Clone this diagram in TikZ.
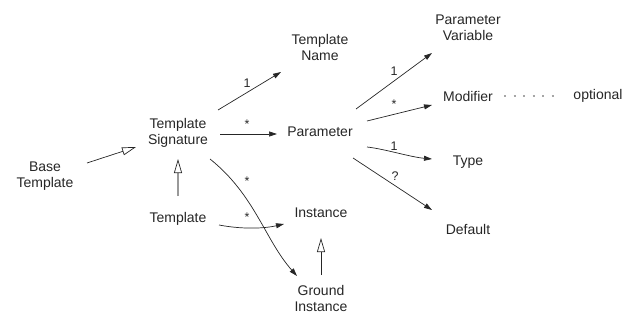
\documentclass[tikz,border=0pt]{standalone}
\usepackage{fontspec}
\setmainfont{Liberation Sans}
\usetikzlibrary{arrows.meta,calc}
\begin{document}
\begin{tikzpicture}[x=1pt,y=-1pt,
  lbl/.style={font=\fontsize{14}{16}\selectfont, align=center, inner sep=0pt, text=black!85},
  mult/.style={font=\fontsize{12.5}{14}\selectfont, inner sep=0pt, text=black!85},
  assoc/.style={draw=black!85, line width=0.7pt, -{Triangle[length=8pt,width=5pt]}},
  inherit/.style={draw=black!85, line width=0.7pt, -{Triangle[open,length=14pt,width=8pt,fill=white]}},
  inheritgray/.style={draw=black!40, line width=1.4pt, -{Triangle[open,length=14pt,width=8pt,fill=white,line width=0.7pt,color=black!85]}},
  dotline/.style={draw=black!35, line width=1.2pt, dash pattern=on 2pt off 7.5pt}
]
\useasboundingbox (0,0) rectangle (640,329);
% nodes
\node[lbl] (BT) at (45,176) {Base\\Template};
\node[lbl] (TS) at (178,133) {Template\\Signature};
\node[lbl] (T) at (178,219) {Template};
\node[lbl] (TN) at (320,47) {Template\\Name};
\node[lbl] (P) at (320,132) {Parameter};
\node[lbl] (I) at (321,213) {Instance};
\node[lbl] (GI) at (321,298) {Ground\\Instance};
\node[lbl] (PV) at (468,28) {Parameter\\Variable};
\node[lbl] (M) at (468,96) {Modifier};
\node[lbl] (O) at (598,96) {optional};
\node[lbl] (Ty) at (468,162) {Type};
\node[lbl] (D) at (468,229) {Default};
% inheritance
\draw[inherit] ($(BT)+(42,-13)$) -- ($(TS)+(-42,14)$);
\draw[inheritgray] ($(T)+(0,-23)$) -- ($(TS)+(0,26)$);
\draw[inherit] ($(GI)+(0,-23)$) -- ($(I)+(0,25)$);
% associations
\draw[assoc] ($(TS)+(40,-23)$) -- ($(TN)+(-39,25)$);
\node[mult] (m1) at (247,83) {1};
\draw[assoc] ($(TS)+(42,1)$) -- ($(P)+(-43,2)$);
\node[mult] (m2) at (247,124) {*};
\draw[assoc] ($(TS)+(32,26)$) .. controls ($(TS)+(77,62)$) and ($(GI)+(-56,-58)$) .. ($(GI)+(-24,-22)$);
\node[mult] (m3) at (247,181) {*};
\draw[assoc] ($(T)+(41,6)$) .. controls ($(T)+(62,10)$) and ($(I)+(-59,16)$) .. ($(I)+(-37,11)$);
\node[mult] (m4) at (247,217) {*};
\draw[assoc] ($(P)+(36,-23)$) -- ($(PV)+(-36,25)$);
\node[mult] (m5) at (394,71) {1};
\draw[assoc] ($(P)+(47,-11)$) -- ($(M)+(-36,9)$);
\node[mult] (m6) at (394,104) {*};
\draw[assoc] ($(P)+(47,15)$) .. controls ($(P)+(65,17)$) and ($(Ty)+(-58,-5)$) .. ($(Ty)+(-36,-3)$);
\node[mult] (m7) at (394,146) {1};
\draw[assoc] ($(P)+(33,26)$) -- ($(D)+(-36,-19)$);
\node[mult] (m8) at (395,176) {?};
% dotted
\draw[dotline] ($(M)+(36,0)$) -- ($(O)+(-37,0)$);
\end{tikzpicture}
\end{document}
